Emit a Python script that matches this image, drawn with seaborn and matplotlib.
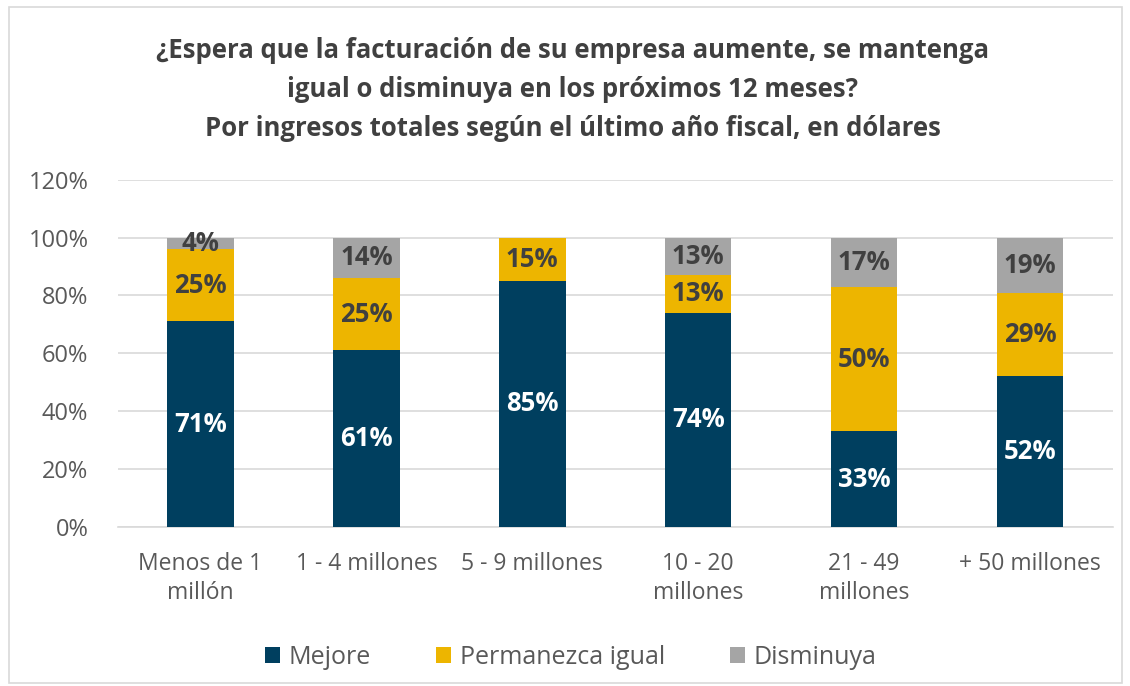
import numpy as np
import pandas as pd
import matplotlib
matplotlib.use("Agg")
import matplotlib.pyplot as plt
from matplotlib.patches import Patch, Rectangle
import seaborn as sns

# ============================== DATA ==============================
categories = ["Menos de 1\nmillón", "1 - 4 millones", "5 - 9 millones",
              "10 - 20\nmillones", "21 - 49\nmillones", "+ 50 millones"]
mejore = [71, 61, 85, 74, 33, 52]
igual = [25, 25, 15, 13, 50, 29]
disminuya = [4, 14, 0, 13, 17, 19]
series_names = ["Mejore", "Permanezca igual", "Disminuya"]

title = ("¿Espera que la facturación de su empresa aumente, se mantenga\n"
         "igual o disminuya en los próximos 12 meses?\n"
         "Por ingresos totales según el último año fiscal, en dólares")

# ============================== STYLE ==============================
sns.set_theme(style="white")
plt.rcParams['font.family'] = ['Open Sans', 'DejaVu Sans']

c_navy = "#003F5F"
c_yellow = "#EDB500"
c_gray = "#A5A5A5"
c_text = "#595959"
c_label = "#404040"

df = pd.DataFrame({"cat": categories, "Mejore": mejore,
                   "Igual": igual, "Disminuya": disminuya})
df["s1"] = df["Mejore"] / 100
df["s2"] = (df["Mejore"] + df["Igual"]) / 100
df["s3"] = (df["Mejore"] + df["Igual"] + df["Disminuya"]) / 100

fig = plt.figure(figsize=(11.3, 6.86), dpi=100)
ax = fig.add_axes([0.104, 0.232, 0.881, 0.506])

# stacked bars drawn as overlapping cumulative layers
for col, c, z in [("s3", c_gray, 2), ("s2", c_yellow, 3), ("s1", c_navy, 4)]:
    sns.barplot(data=df, x="cat", y=col, color=c, width=0.4, saturation=1,
                linewidth=0, ax=ax, zorder=z)

ax.set_ylim(0, 1.2)
ax.set_yticks(np.arange(0, 1.21, 0.2))
ax.set_yticklabels([f"{int(round(v * 100))}%" for v in np.arange(0, 1.21, 0.2)])
ax.yaxis.grid(True, color="#D9D9D9", linewidth=1.2, zorder=0)
ax.set_axisbelow(True)
for s in ["top", "right", "left"]:
    ax.spines[s].set_visible(False)
ax.spines["bottom"].set_color("#D9D9D9")
ax.spines["bottom"].set_linewidth(1.2)
ax.set_xlabel("")
ax.set_ylabel("")
ax.tick_params(axis="y", length=0, labelsize=17, colors=c_text, pad=21)
ax.tick_params(axis="x", length=0, labelsize=16.5, colors=c_text, pad=18)
for lbl in ax.get_xticklabels():
    lbl.set_linespacing(1.3)
ax.set_xlim(-0.5, len(categories) - 0.5)

# value labels
for i, row in df.iterrows():
    segs = [(0, row["s1"], row["Mejore"], "white"),
            (row["s1"], row["s2"], row["Igual"], c_label),
            (row["s2"], row["s3"], row["Disminuya"], c_label)]
    for lo, hi, val, col in segs:
        if val <= 0:
            continue
        ax.text(i, (lo + hi) / 2, f"{val}%", ha="center", va="center",
                fontsize=18.5, fontweight="bold", color=col, zorder=6)

fig.text(0.507, 0.946, title, ha="center", va="top", fontsize=18.5,
         fontweight="bold", color=c_label, linespacing=1.58)

handles = [Patch(facecolor=c, edgecolor="none") for c in [c_navy, c_yellow, c_gray]]
fig.legend(handles, series_names, loc="center", bbox_to_anchor=(0.505, 0.042),
           ncol=3, frameon=False, fontsize=18, handlelength=0.6, handleheight=0.6,
           columnspacing=2.6, handletextpad=0.35, labelcolor=c_text)

fig.patches.append(Rectangle((0.008, 0.005), 0.985, 0.985, transform=fig.transFigure,
                             fill=False, edgecolor="#D9D9D9", linewidth=1.2))

fig.savefig("out.png", dpi=100, facecolor="white")
